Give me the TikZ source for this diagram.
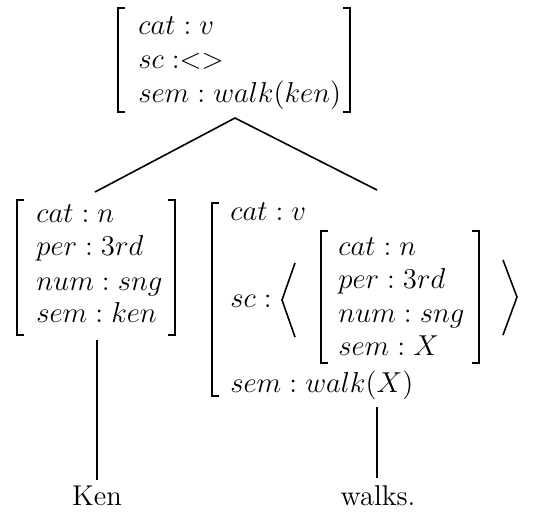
\documentclass[tikz,border=0pt]{standalone}
\begin{document}
\begin{tikzpicture}[x=0.5pt,y=-0.5pt,
  brk/.style={line width=0.9pt},
  edge/.style={line width=0.8pt},
  row/.style={anchor=base west, inner sep=0pt, font=\fontsize{14.8}{17}\selectfont},
  word/.style={anchor=base, inner sep=0pt, font=\fontsize{14.3}{17}\selectfont}]
\useasboundingbox (0,0) rectangle (535,511);

% ---- top AVM ----
\draw[brk] (125,8) -- (118,8) -- (118,112) -- (125,112);
\draw[brk] (343,8) -- (350,8) -- (350,112) -- (343,112);
\node[row] (t1) at (138,34) {$cat : v$};
\node[row] (t2) at (138,68) {$sc\;{:}{<}{>}$};
\node[row] (t3) at (138,102) {$sem : walk(ken)$};
\coordinate (apex) at (235,118);

% ---- left AVM ----
\draw[brk] (24,200) -- (17,200) -- (17,335) -- (24,335);
\draw[brk] (168,200) -- (175,200) -- (175,335) -- (168,335);
\node[row] (l1) at (36,222) {$cat : n$};
\node[row] (l2) at (36,255) {$per : 3rd$};
\node[row] (l3) at (36,290) {$num : sng$};
\node[row] (l4) at (36,322) {$sem : ken$};
\coordinate (ltop) at (95,192);
\coordinate (lbot) at (97,340);
\coordinate (lend) at (97,480);

% ---- right AVM ----
\draw[brk] (219,203) -- (212,203) -- (212,396) -- (219,396);
\node[row] (r1) at (230,220) {$cat : v$};
\node[row] (r2) at (230,307) {$sc :$};
\node[row] (r3) at (230,392) {$sem : walk(X)$};
\draw[edge] (295,263) -- (282,300) -- (295,337);
\draw[brk] (328,231) -- (321,231) -- (321,363) -- (328,363);
\draw[brk] (472,231) -- (479,231) -- (479,363) -- (472,363);
\node[row] (i1) at (338,255) {$cat : n$};
\node[row] (i2) at (338,288) {$per : 3rd$};
\node[row] (i3) at (338,322) {$num : sng$};
\node[row] (i4) at (338,355) {$sem : X$};
\draw[edge] (503,260) -- (517,297) -- (503,335);
\coordinate (rtop) at (377,190);
\coordinate (rbot) at (377,407);
\coordinate (rend) at (377,478);

% ---- words ----
\node[word] (ken) at (97,505) {Ken};
\node[word] (walks) at (378,505) {walks.};

% ---- tree edges ----
\draw[edge] (ltop) -- (apex) -- (rtop);
\draw[edge] (lbot) -- (lend);
\draw[edge] (rbot) -- (rend);
\end{tikzpicture}
\end{document}
